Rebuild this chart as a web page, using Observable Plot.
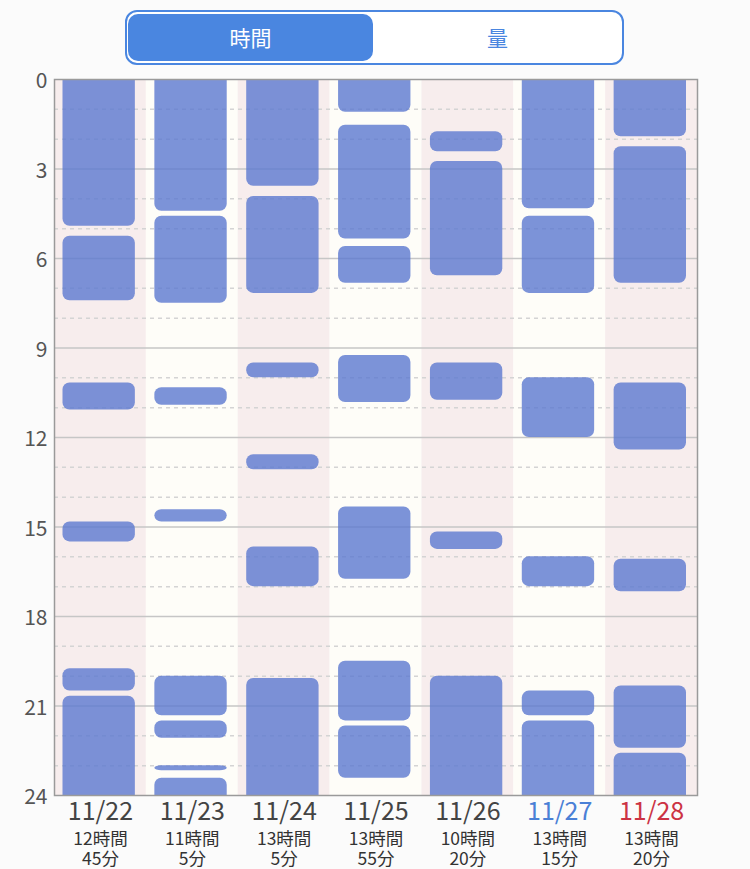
<!DOCTYPE html>
<html><head><meta charset="utf-8">
<script src="https://cdn.jsdelivr.net/npm/d3@7"></script>
<script src="https://cdn.jsdelivr.net/npm/@observablehq/plot@0.6"></script>
<style>
html,body{margin:0;padding:0;background:#fbfbfb;width:750px;height:869px;overflow:hidden;font-family:"Noto Sans CJK JP","Noto Sans",sans-serif}
#wrap{position:relative;width:750px;height:869px}
#toggle{position:absolute;left:125px;top:10px;width:495px;height:51px;border:2px solid #4a86e0;border-radius:12px;background:#fff;z-index:2}
#toggle .seg{position:absolute;top:2px;height:47px;line-height:47px;text-align:center;font-size:21px}
#toggle .on{left:1px;width:245px;background:#4a86e0;color:#fff;border-radius:10px}
#toggle .off{left:246px;width:249px;color:#4a86e0}
#chart{position:absolute;left:0;top:0}
</style></head>
<body><div id="wrap">
<div id="toggle"><div class="seg on">時間</div><div class="seg off">量</div></div>
<div id="chart"></div>
</div>
<script>
// categories
const dates = ["11/22", "11/23", "11/24", "11/25", "11/26", "11/27", "11/28"];
const totalHours = ["12時間", "11時間", "13時間", "13時間", "10時間", "13時間", "13時間"];
const totalMinutes = ["45分", "5分", "5分", "55分", "20分", "15分", "20分"];
const dateColors = ["#444444", "#444444", "#444444", "#444444", "#444444", "#4a80d6", "#cc3344"];
const stripeColors = ["#f7eded", "#fefdf8", "#f7eded", "#fefdf8", "#f7eded", "#fefdf8", "#f7eded"];
// sleep periods per day: [start hour, end hour]
const sleep1122 = [[0, 4.92], [5.25, 7.42], [10.17, 11.08], [14.83, 15.5], [19.75, 20.5], [20.67, 24]];
const sleep1123 = [[0, 4.42], [4.58, 7.5], [10.33, 10.92], [14.42, 14.83], [20, 21.33], [21.5, 22.08], [23, 23.17], [23.42, 24]];
const sleep1124 = [[0, 3.58], [3.92, 7.17], [9.5, 10], [12.58, 13.08], [15.67, 17], [20.08, 24]];
const sleep1125 = [[0, 1.1], [1.53, 5.35], [5.6, 6.83], [9.25, 10.83], [14.33, 16.75], [19.5, 21.5], [21.67, 23.42]];
const sleep1126 = [[1.75, 2.42], [2.75, 6.58], [9.5, 10.75], [15.17, 15.75], [20, 24]];
const sleep1127 = [[0, 4.33], [4.58, 7.17], [10, 12], [16, 17], [20.5, 21.33], [21.5, 24]];
const sleep1128 = [[0, 1.92], [2.25, 6.83], [10.17, 12.42], [16.08, 17.17], [20.33, 22.42], [22.58, 24]];
const sleepByDay = [sleep1122, sleep1123, sleep1124, sleep1125, sleep1126, sleep1127, sleep1128];
// tick labels
const hourLabels = [0, 3, 6, 9, 12, 15, 18, 21, 24];
const majorHours = [3, 6, 9, 12, 15, 18, 21];
const minorHours = [1, 2, 4, 5, 7, 8, 10, 11, 13, 14, 16, 17, 19, 20, 22, 23];

const days = dates.map((d, i) => ({date: d, hours: totalHours[i], minutes: totalMinutes[i], color: dateColors[i], bg: stripeColors[i]}));
const segments = sleepByDay.flatMap((arr, i) => arr.map(([s, e]) => ({date: dates[i], start: s, end: e})));

const chart = Plot.plot({
  width: 750, height: 869,
  marginTop: 79, marginBottom: 74, marginLeft: 54, marginRight: 53,
  style: {background: "transparent", fontFamily: "'Noto Sans CJK JP','Noto Sans',sans-serif", overflow: "visible"},
  x: {type: "band", domain: dates, padding: 0, round: false, axis: null},
  y: {domain: [0, 24], reverse: true, axis: null},
  color: {type: "identity"},
  marks: [
    Plot.barY(days, {x: "date", y1: 0, y2: 24, fill: "bg"}),
    Plot.ruleY(minorHours, {stroke: "#d4d4d4", strokeWidth: 1.5, strokeDasharray: "4,4"}),
    Plot.ruleY(majorHours, {stroke: "#c6c6c6", strokeWidth: 1.5}),
    Plot.barY(segments, {
      x: "date",
      y1: d => d.start === 0 ? -1 : d.start,
      y2: d => d.end === 24 ? 25 : d.end,
      fill: "#5b78cf", fillOpacity: 0.8, rx: 7,
      insetLeft: 8.5, insetRight: 11, clip: true
    }),
    Plot.frame({stroke: "#9a9a9a", strokeWidth: 1.5}),
    Plot.text(hourLabels, {y: d => d, text: d => String(d), frameAnchor: "left", textAnchor: "end", lineAnchor: "middle", dx: -7, dy: 2, fontSize: 21, fill: "#555"}),
    Plot.text(days, {x: "date", text: "date", frameAnchor: "bottom", lineAnchor: "middle", dy: 16, fontSize: 25, fill: "color"}),
    Plot.text(days, {x: "date", text: "hours", frameAnchor: "bottom", lineAnchor: "middle", dy: 44, fontSize: 17.5, fill: "#333"}),
    Plot.text(days, {x: "date", text: "minutes", frameAnchor: "bottom", lineAnchor: "middle", dy: 64, fontSize: 17.5, fill: "#333"})
  ]
});
document.getElementById("chart").appendChild(chart);
</script>
</body></html>
